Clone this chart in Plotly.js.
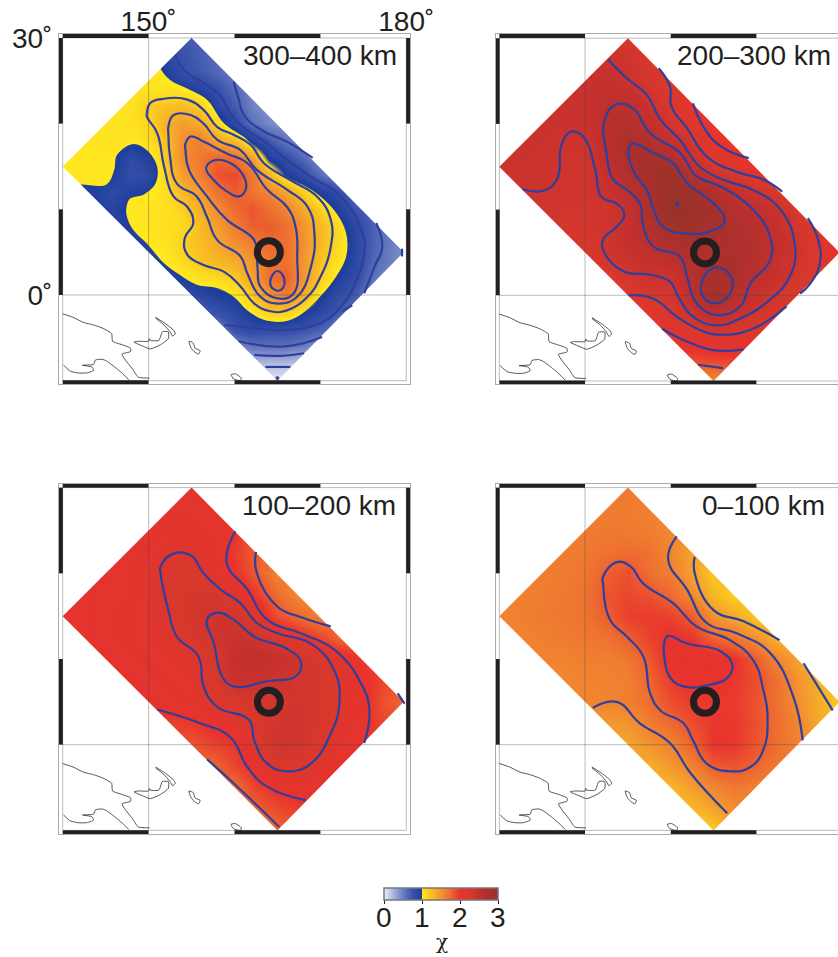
<!DOCTYPE html>
<html><head><meta charset="utf-8">
<script src="https://cdn.plot.ly/plotly-3.0.1.min.js"></script>
<style>html,body{margin:0;padding:0;background:#fff;overflow:hidden}#chart{width:838px;height:957px}</style>
</head><body><div id="chart"></div>
<script>
// ---------- colour scale (chi) ----------
const blueStops  = [0, 0.25, 0.5, 0.75, 1];
const blueColors = ['#e9ecf6','#aab5dd','#6a7dc0','#3a53ab','#1d3d9c'];
const warmStops  = [1, 1.25, 1.5, 1.75, 2, 2.25, 2.5, 2.75, 3];
const warmColors = ['#ffe820','#f9c022','#f39430','#ed6a30','#e8322d','#d8382c','#c4302e','#a9302c','#96322a'];
const chiTicks   = [0, 1, 2, 3];
const chiSymbol  = 'χ';

// ---------- depth labels ----------
const depthLabels = ['300–400 km','200–300 km','100–200 km','0–100 km'];

// ---------- study region corners and site ----------
const cornerLon = [155, 179.7, 165, 140];
const cornerLat = [30, 5, -10, 15];
const siteLon = [164];
const siteLat = [5];

// ---------- chi grids: each row = [first lon, values...] ----------
const latsFine = [30,28,26,24,22,20,18,16,14,12,10,8,6,4,2,0,-2,-4,-6,-8,-10];
const lonsFine = [140,142,144,146,148,150,152,154,156,158,160,162,164,166,168,170,172,174,176,178,180];
const latsCoarse = [30,27.5,25,22.5,20,17.5,15,12.5,10,7.5,5,2.5,0,-2.5,-5,-7.5,-10];
const lonsCoarse = [140,142.5,145,147.5,150,152.5,155,157.5,160,162.5,165,167.5,170,172.5,175,177.5,180];

const rows300 = [
 [152,.85,.72,.66,.58],
 [150,.98,.88,.76,.68,.6],
 [150,1.05,.98,.79,.72,.62,.5],
 [148,1.05,1.05,1.06,1.01,.93,.78,.6,.45],
 [146,1.03,1.05,1.2,1.25,1.28,1.2,.9,.7,.48,.4],
 [144,1.03,1.05,1.08,1.15,1.35,1.45,1.38,1.15,.85,.58,.45,.38],
 [142,1.02,1.05,1.07,1.02,1.1,1.26,1.54,1.62,1.4,1.28,.97,.73,.55,.42],
 [140,1.02,1.03,1.03,1.01,.85,.96,1.22,1.55,1.66,1.78,1.72,1.45,.98,.81,.62,.42],
 [140,1.0,1.03,1.02,.98,.8,.85,1.17,1.45,1.64,1.85,1.9,1.68,1.33,1.0,.83,.6,.45],
 [142,.95,.95,.85,.96,.98,1.1,1.3,1.45,1.7,1.82,1.7,1.58,1.4,1.2,.97,.82,.58],
 [144,.95,.93,1.03,1.05,1.08,1.18,1.35,1.55,1.75,1.85,1.72,1.6,1.38,1.18,.97,.75,.62],
 [146,.9,.98,1.05,1.08,1.12,1.28,1.45,1.65,1.8,1.82,1.72,1.5,1.3,1.12,.88,.68,.5],
 [148,.9,.99,1.07,1.18,1.27,1.38,1.52,1.62,1.75,1.72,1.52,1.3,1.12,.9,.67,.52,.42],
 [150,.9,1.01,1.13,1.23,1.3,1.38,1.5,1.68,1.72,1.5,1.25,1.07,.88,.65,.5,.38],
 [152,.9,.98,1.08,1.12,1.2,1.42,1.72,1.8,1.5,1.2,.98,.82,.58,.43,.33],
 [154,.85,.88,.97,1.02,1.22,1.5,1.65,1.37,1.03,.83,.7,.5,.36,.3],
 [156,.7,.78,.88,1.03,1.2,1.2,1.03,.88,.72,.57,.42,.3],
 [158,.5,.79,.85,.82,.82,.77,.68,.52,.42,.3],
 [160,.45,.55,.57,.56,.5,.38,.3,.22],
 [162,.22,.2,.2,.16,.1],
 [162,.08,.04,.02,.04]
];
const rows200 = [
 [152.5,2.35,2.3,2.28],
 [152.5,2.42,2.36,2.25,2.2],
 [150,2.45,2.5,2.42,2.3,2.17],
 [147.5,2.43,2.47,2.55,2.57,2.42,2.22,2.02],
 [145,2.43,2.45,2.45,2.6,2.68,2.53,2.33,2.17,1.95],
 [142.5,2.43,2.42,2.38,2.37,2.58,2.75,2.72,2.55,2.33,2.07,1.95],
 [140,2.4,2.42,2.4,2.36,2.36,2.52,2.72,2.83,2.83,2.52,2.3,2.18,2.0],
 [142.5,2.41,2.38,2.35,2.33,2.47,2.6,2.78,2.92,2.82,2.62,2.47,2.35,2.2],
 [145,2.35,2.33,2.33,2.35,2.48,2.72,2.97,2.92,2.8,2.64,2.58,2.43,2.22],
 [147.5,2.3,2.3,2.37,2.5,2.65,2.83,2.82,2.78,2.7,2.63,2.5,2.32,2.15],
 [150,2.25,2.35,2.47,2.55,2.65,2.7,2.72,2.72,2.65,2.5,2.37,2.2,1.95],
 [152.5,2.22,2.33,2.42,2.42,2.65,2.8,2.75,2.6,2.46,2.3,2.18],
 [155,2.2,2.27,2.33,2.58,2.82,2.65,2.47,2.33,2.2,2.1],
 [157.5,2.1,2.2,2.37,2.55,2.42,2.3,2.2],
 [160,2.07,2.12,2.18,2.15,2.15],
 [162.5,1.9,1.92,1.93,1.9],
 [162.5,1.6,1.55,1.7]
];
const rows100 = [
 [152.5,2.05,2.05,2.0],
 [152.5,2.08,2.08,2.05,2.0],
 [150,2.08,2.1,2.1,2.08,2.0],
 [147.5,2.08,2.1,2.15,2.2,2.12,1.95,1.8],
 [145,2.05,2.08,2.12,2.22,2.25,2.13,2.0,1.82,1.6],
 [142.5,2.05,2.08,2.08,2.12,2.24,2.28,2.3,2.15,1.97,1.75,1.55],
 [140,2.03,2.05,2.08,2.1,2.12,2.2,2.3,2.38,2.35,2.17,1.87,1.75,1.62],
 [142.5,2.05,2.08,2.1,2.12,2.15,2.28,2.35,2.43,2.4,2.22,2.05,1.92,1.75],
 [145,2.05,2.08,2.1,2.12,2.15,2.25,2.5,2.55,2.48,2.38,2.25,2.1,1.95],
 [147.5,2.05,2.08,2.1,2.12,2.27,2.42,2.45,2.39,2.33,2.28,2.17,2.03,1.9],
 [150,2.05,2.08,2.1,2.18,2.24,2.3,2.32,2.32,2.28,2.17,2.04,1.85,1.75],
 [152.5,1.93,1.97,2.05,2.13,2.24,2.33,2.38,2.25,2.15,2.03,1.9],
 [155,1.85,1.92,1.98,2.2,2.37,2.35,2.22,2.1,2.0,1.92],
 [157.5,1.75,1.92,2.06,2.22,2.22,2.13,2.03],
 [160,1.72,1.93,2.02,2.07,2.03],
 [162.5,1.78,1.9,1.95,1.9],
 [162.5,1.6,1.75,1.85]
];
const rows0 = [
 [152.5,1.65,1.65,1.62],
 [152.5,1.65,1.65,1.62,1.6],
 [150,1.65,1.66,1.65,1.63,1.58,1.5],
 [147.5,1.63,1.66,1.7,1.74,1.7,1.58,1.42],
 [145,1.63,1.65,1.68,1.8,1.87,1.72,1.63,1.43,1.2],
 [142.5,1.62,1.64,1.66,1.7,1.85,1.9,1.87,1.75,1.56,1.3,1.15],
 [140,1.6,1.62,1.65,1.67,1.7,1.8,1.95,1.96,1.93,1.82,1.5,1.38,1.2],
 [142.5,1.6,1.62,1.65,1.66,1.7,1.8,1.93,2.02,1.98,1.78,1.68,1.52,1.32],
 [145,1.6,1.6,1.63,1.62,1.68,1.83,2.05,2.08,2.07,2.0,1.82,1.58,1.4],
 [147.5,1.58,1.6,1.6,1.62,1.77,1.96,2.02,2.03,1.98,1.88,1.7,1.5,1.33],
 [150,1.58,1.6,1.63,1.72,1.88,1.96,1.98,1.95,1.85,1.7,1.52,1.35,1.15],
 [152.5,1.47,1.5,1.64,1.75,1.88,1.98,1.98,1.87,1.72,1.57,1.35],
 [155,1.4,1.5,1.6,1.78,2.0,1.98,1.85,1.72,1.6,1.45],
 [157.5,1.35,1.48,1.6,1.82,1.85,1.77,1.65],
 [160,1.3,1.45,1.58,1.66,1.62],
 [162.5,1.28,1.42,1.55,1.55],
 [162.5,1.1,1.2,1.4]
];

// ---------- the chi = 1 edge of the yellow area at 300-400 km ----------
const yellowLon = [150,151.4,152.5,154.5,156.8,158.8,161.5,163.4,165.8,168.9,171.6,173.0,173.0,171.6,169.6,167.7,165.8,163.4,161.5,159.9,158.0,155.6,153.7,151.8,149.8,148.2,147.4,147.7,148.2,149.4,150.8,151.0,149.8,148.1,146.3,146.0,145.1,142.2,140.3,137,137,150];
const yellowLat = [30,26.4,25.1,24.1,22.8,20.0,18.1,15.8,13.8,12.3,9.9,7.2,4.5,1.8,-0.6,-2.3,-3.1,-2.9,-1.8,-0.2,0.8,1.2,2.3,3.7,6.0,7.6,9.5,11.1,11.4,11.7,13.0,15.0,16.9,17.6,16.3,14.6,12.9,12.9,12.9,12.9,32,32];

// ---------- contour lines (lon / lat, null separates lines) ----------
const _ = null;
const contourLon300 = [
149.8,150.2,151.8,154.5,156.4,158.0,159.9,161.9,163.4,166.5,169.6,171.2,171.2,170.0,168.5,166.1,164.2,162.3,160.7,158.8,156.4,154.5,154.2,155.2,154.5,152.9,151.8,151.0,149.8,149.8,_,
152.3,152.9,154.9,156.4,158.0,160.7,162.6,166.1,168.5,169.3,168.9,167.3,165.0,163.0,161.5,160.7,158.0,156.8,155.6,153.3,152.5,152.3,152.3,_,
154.3,154.9,156.4,159.1,161.5,163.8,166.1,167.1,167.3,166.9,165.0,163.0,162.7,162.6,162.3,159.1,156.8,154.7,154.3,154.3,_,
156.7,157.6,159.5,161.1,161.3,160.5,159.1,157.6,156.7,_,
164.2,165.0,165.8,165.4,164.4,164.2,_,
153.1,154.1,156.8,158.4,159.5,161.1,163.8,166.1,168.9,172.4,174.9,175.1,173.9,172.0,170.0,165.8,162.6,158.8,_,
159.9,160.5,161.1,163.4,166.1,169.1,_,
176.5,177.2,176.3,175.1,_,
160.5,165.8,170.2,_,
172.6,173.7,_,
162.3,165.4,168.1,_,
163.6,166.5,_,
164.9,165.0,165.1,165.0,164.9,_,
179.5,179.5];
const contourLat300 = [
21.2,22.4,22.9,22.8,21.6,19.6,18.7,17.5,15.4,13.4,11.5,8.8,5.6,2.1,-0.2,-1.8,-1.9,-1.0,1.0,2.7,3.5,4.7,6.6,8.4,10.3,11.5,15.0,18.9,20.8,21.2,_,
19.6,21.0,21.0,20.0,18.1,16.9,14.6,12.3,10.3,7.2,3.3,-0.2,-1.0,-0.2,2.5,4.5,6.4,9.1,11.5,13.0,16.1,18.9,19.6,_,
17.7,18.5,17.9,16.5,15.4,12.3,10.3,8.0,4.5,0.2,-0.4,1.0,2.9,4.5,6.4,8.8,11.5,14.6,16.9,17.7,_,
14.8,15.7,15.4,13.8,12.3,11.5,12.1,13.4,14.8,_,
1.8,2.8,1.8,0.6,0.8,1.8,_,
28.0,26.3,24.5,23.2,21.2,19.5,17.7,15.8,13.8,11.5,7.2,4.9,1.0,-1.8,-3.3,-4.1,-3.9,-3.5,_,
24.9,22.8,21.0,19.1,17.9,16.0,_,
8.4,5.6,3.3,0.2,_,
-5.4,-6.0,-4.9,_,
-1.9,-1.2,_,
-7.0,-7.1,-6.8,_,
-8.4,-8.4,_,
-9.7,-9.6,-9.7,-9.8,-9.7,_,
5.4,4.5];

const contourLon200 = [
162.6,163.8,165.8,169.1,_,
158.6,159.9,160.1,161.9,164.2,167.7,170.8,173.0,_,
176.0,177.2,177.4,176.3,175.1,_,
155.1,158.0,160.7,163.8,165.8,169.6,173.5,_,
159.0,161.9,165.0,168.5,_,
163.2,166.1,_,
152.7,154.9,157.2,158.8,161.1,163.4,166.1,169.6,172.8,174.5,173.9,171.6,168.1,165.4,162.6,160.9,159.9,157.6,154.5,152.3,152.1,153.7,154.6,153.7,151.9,151.2,149.8,148.4,147.3,146.7,145.1,142.7,_,
152.3,153.7,155.6,157.6,161.1,163.0,165.8,169.6,171.6,171.6,169.3,168.1,165.4,163.0,161.9,161.1,158.0,156.8,156.4,154.9,153.3,152.5,152.3,_,
155.1,155.6,158.0,160.3,161.9,165.0,166.3,165.0,161.9,159.1,158.0,157.2,155.6,155.1,_,
163.6,165.0,166.9,167.1,165.4,163.8,163.6,_,
160.6,160.7,160.85,160.7,160.6];
const contourLat200 = [
22.4,19.7,17.4,16.0,_,
26.5,24.4,22.0,19.5,16.2,14.4,13.5,12.1,_,
9.0,6.5,3.7,1.4,0.2,_,
0.0,-0.4,-2.5,-4.2,-4.6,-3.9,-1.3,_,
-3.9,-5.4,-6.4,-6.3,_,
-8.1,-8.5,_,
27.5,25.3,23.4,20.5,18.1,15.0,13.5,12.3,10.0,5.7,2.2,-0.5,-2.7,-3.5,-2.5,-0.2,1.6,2.4,2.8,4.9,6.5,8.0,9.4,10.7,11.5,14.6,18.5,19.1,17.7,13.5,12.2,12.4,_,
20.5,22.3,21.8,18.9,16.6,13.9,12.7,10.0,6.8,4.1,1.4,-1.3,-2.3,-0.9,2.2,4.5,5.7,8.0,10.7,12.3,13.5,16.6,20.5,_,
17.2,17.7,16.6,15.4,13.1,10.7,8.8,7.6,7.2,8.0,10.0,12.3,14.6,17.2,_,
1.4,3.2,2.4,0.6,-0.9,-0.2,1.4,_,
10.6,10.75,10.6,10.45,10.6];

const contourLon100 = [
151.4,152.9,154.9,156.4,158.4,160.7,162.6,165.0,168.9,171.6,172.2,171.2,168.9,166.1,163.8,162.3,161.7,158.0,156.4,155.8,153.3,152.3,151.4,151.4,_,
156.8,158.0,159.9,162.3,166.1,167.7,167.3,163.8,159.9,158.6,157.6,156.8,_,
160.1,159.1,161.5,163.8,167.7,171.6,174.7,175.7,175.1,_,
162.5,162.6,165.0,167.7,171.2,_,
151.0,156.0,159.5,161.5,163.8,168.3,_,
156.8,159.9,165.2,_,
179.0,179.8];
const contourLat100 = [
20.8,22.3,22.1,20.0,18.1,16.5,14.2,13.0,11.8,8.7,4.8,1.3,-2.2,-3.1,-2.2,0.5,2.9,4.4,6.8,10.3,12.6,15.7,20.0,20.8,_,
14.6,15.4,14.6,12.6,11.2,9.7,8.1,7.4,6.8,7.9,11.8,14.6,_,
24.9,21.2,18.1,14.6,13.0,11.1,7.2,4.0,0.2,_,
22.5,20.0,16.1,14.9,13.8,_,
4.1,2.5,0.9,-2.6,-4.9,-6.5,_,
-1.7,-4.5,-9.6,_,
6.0,4.8];

const contourLon0 = [
159.3,159.7,161.9,165.8,167.2,166.7,164.6,161.5,159.9,159.3,159.3,_,
152.1,153.7,155.3,156.8,160.3,163.0,166.9,169.6,170.8,171.3,170.8,169.3,166.9,164.2,162.6,161.5,158.8,157.6,156.8,154.9,152.9,152.1,152.1,_,
160.7,159.7,161.9,164.2,167.7,171.6,174.3,175.4,_,
150.9,153.7,156.4,159.9,162.3,166.6,_,
162.8,162.8,165.0,168.5,172.7,_,
175.5,178.9];
const contourLat0 = [
12.2,12.7,11.8,10.9,9.3,7.9,7.0,6.8,7.9,9.9,12.2,_,
19.6,21.3,20.8,18.8,16.5,13.8,12.2,9.9,6.4,2.9,-0.6,-2.6,-3.1,-2.2,0.5,2.5,4.0,6.0,10.3,12.6,14.6,18.8,19.6,_,
24.3,21.6,18.1,14.2,13.0,10.7,5.6,0.5,_,
4.3,5.0,2.5,0.2,-3.3,-8.0,_,
21.9,20.0,15.7,14.4,12.2,_,
9.5,4.0];

// ---------- coastlines ----------
const coastLon = [
140.0,141.2,142.4,143.6,144.7,145.7,145.8,146.9,147.9,147.9,146.9,147.3,148.1,148.8,150.1,_,
140.1,140.9,141.8,142.8,143.6,143.4,142.3,143.6,143.8,144.6,145.1,146.3,147.1,147.7,_,
148.3,149.4,150.2,151.4,152.3,152.3,151.6,151.2,150.2,150.1,150.0,148.8,148.3,_,
150.8,151.9,152.9,153.1,152.8,152.5,151.8,150.8,_,
154.7,155.2,155.4,156.0,155.8,155.3,154.9,154.7,_,
159.6,160.1,160.8,160.7,159.9,159.6];
const coastLat = [
-2.2,-2.6,-3.2,-3.5,-3.9,-4.5,-5.4,-5.8,-6.2,-6.6,-6.9,-7.6,-8.6,-9.6,-9.7,_,
-8.2,-8.9,-9.1,-9.1,-8.8,-8.4,-8.2,-8.1,-7.6,-7.5,-7.7,-8.6,-9.3,-9.9,_,
-5.5,-6.0,-6.3,-5.8,-5.1,-4.3,-4.3,-5.3,-5.3,-5.1,-5.4,-5.4,-5.5,_,
-2.6,-3.3,-4.1,-4.5,-4.8,-4.3,-3.5,-2.7,_,
-5.4,-5.6,-6.2,-6.5,-6.9,-6.6,-6.1,-5.4,_,
-9.3,-9.2,-9.7,-10.0,-9.8,-9.3];

// ---------- frame bars and graticule ----------
const barTopLon = [140,150,_,160,170];
const barSideLat = [30,20,_,10,0];
const gridLon = [150,150,_,140,180,_,140,140,_,180,180,_,140,180,_,140,180];
const gridLat = [-10,30,_,0,0,_,-10,30,_,-10,30,_,30,30,_,-10,-10];

// ---------- build ----------
const W = 838, H = 957;
const FONT = '"Liberation Sans",Arial,sans-serif', INK = '#231f20';
const blueScale = blueStops.map((s,i)=>[s, blueColors[i]]);
const fullScale = blueStops.map((s,i)=>[Math.min(s/3,0.33333), blueColors[i]])
  .concat(warmStops.map((s,i)=>[s===1?0.33334:s/3, warmColors[i]]));
// warm part of the 300-400 km panel: see-through up to the yellow plateau
const warmOverlay = [[0,'rgba(252,215,33,0)'],[0.01,'rgba(252,215,33,0)'],[0.07,'rgba(252,215,33,1)']]
  .concat(warmStops.slice(1).map((s,i)=>[(s-1)/2, warmColors[i+1]]));

function grid(rows, lons){
  const step = lons[1]-lons[0];
  return rows.map(r=>{
    const out = lons.map(()=>null);
    const first = Math.round((r[0]-lons[0])/step);
    r.slice(1).forEach((v,i)=>{out[first+i]=v;});
    return out;
  });
}
const c = cornerLon, d = cornerLat;
// white polygons outside the rotated study rectangle
const maskLon = [130,c[0],c[0],c[3],130,130,_, c[0],190,190,c[1],c[0],c[0],_, 190,190,c[2],c[2],c[1],190,_, c[2],130,130,c[3],c[2],c[2]];
const maskLat = [40,40,d[0],d[3],d[3],40,_, 40,40,d[1],d[1],d[0],40,_, d[1],-20,-20,d[2],d[1],d[1],_, -20,-20,d[3],d[3],d[2],-20];

const panels = [
 {id:'',  px:[59,410],   py:[34,384],  xr:[139.57,180.43], yr:[-10.39,30.46], lons:lonsFine,   lats:latsFine,   rows:rows300, cx:contourLon300, cy:contourLat300, label:depthLabels[0], lx:179.1},
 {id:'2', px:[496,838],  py:[34,384],  xr:[139.61,179.52], yr:[-10.35,30.49], lons:lonsCoarse, lats:latsCoarse, rows:rows200, cx:contourLon200, cy:contourLat200, label:depthLabels[1], lx:178.9},
 {id:'3', px:[59,410],   py:[484,834], xr:[139.57,180.43], yr:[-10.42,30.42], lons:lonsCoarse, lats:latsCoarse, rows:rows100, cx:contourLon100, cy:contourLat100, label:depthLabels[2], lx:179.0},
 {id:'4', px:[496,838],  py:[484,834], xr:[139.61,179.52], yr:[-10.42,30.42], lons:lonsCoarse, lats:latsCoarse, rows:rows0,   cx:contourLon0,   cy:contourLat0,   label:depthLabels[3], lx:178.2}
];

const traces = [];
const layout = {
  width:W, height:H, margin:{l:0,r:0,t:0,b:0,autoexpand:false},
  paper_bgcolor:'#fff', plot_bgcolor:'#fff', showlegend:false,
  font:{family:FONT, color:INK, size:28},
  annotations:[],
  coloraxis:{
    colorscale:fullScale, cmin:0, cmax:3,
    colorbar:{
      orientation:'h', x:384/W, xanchor:'left', y:1-887.5/H, yanchor:'top',
      len:114/W, lenmode:'fraction', thickness:12, thicknessmode:'pixels',
      xpad:0, ypad:0, outlinecolor:'#777', outlinewidth:1.5,
      tickmode:'array', tickvals:chiTicks, ticktext:chiTicks.map(()=>''),
      ticks:'outside', ticklen:4, tickcolor:INK, tickwidth:1
    }
  }
};
chiTicks.forEach(t=>layout.annotations.push({xref:'paper',yref:'paper',x:(384+t/3*114)/W,y:1-917.5/H,text:String(t),showarrow:false,xanchor:'center',yanchor:'middle',font:{size:28,color:INK,family:FONT}}));
layout.annotations.push({xref:'paper',yref:'paper',x:441.5/W,y:1-942/H,text:chiSymbol,showarrow:false,xanchor:'center',yanchor:'middle',font:{size:20,color:INK,family:'"DejaVu Serif",serif'}});

panels.forEach((p,i)=>{
  const xa='x'+p.id, ya='y'+p.id;
  const z=grid(p.rows,p.lons);
  const isFirst = i===0;
  // the 300-400 km panel draws its overlay marks on a second, coincident axis pair
  const ox = isFirst?'x5':xa, oy = isFirst?'y5':ya;
  const base={xaxis:xa,yaxis:ya,hoverinfo:'skip',showlegend:false};
  const top ={xaxis:ox,yaxis:oy,hoverinfo:'skip',showlegend:false};
  if(isFirst){
    traces.push(Object.assign({},base,{type:'heatmap',x:p.lons,y:p.lats,z:z,zsmooth:'best',connectgaps:true,colorscale:blueScale,zmin:0,zmax:1,showscale:false}));
    traces.push(Object.assign({},base,{type:'scatter',mode:'lines',x:yellowLon,y:yellowLat,fill:'toself',fillcolor:warmColors[0],line:{width:0,color:warmColors[0],shape:'spline',smoothing:1}}));
    traces.push(Object.assign({},top,{type:'heatmap',x:p.lons,y:p.lats,z:z.map(r=>r.slice()),zsmooth:'best',connectgaps:true,colorscale:warmOverlay,zmin:1,zmax:3,showscale:false}));
  } else {
    traces.push(Object.assign({},base,{type:'heatmap',x:p.lons,y:p.lats,z:z,zsmooth:'best',connectgaps:true,coloraxis:'coloraxis'}));
  }
  traces.push(Object.assign({},top,{type:'scatter',mode:'lines',x:maskLon,y:maskLat,fill:'toself',fillcolor:'#fff',line:{width:0,color:'#fff'}}));
  traces.push(Object.assign({},top,{type:'scatter',mode:'lines',x:gridLon,y:gridLat,line:{width:1,color:'rgba(70,70,70,0.36)'}}));
  traces.push(Object.assign({},top,{type:'scatter',mode:'lines',x:coastLon,y:coastLat,line:{width:0.7,color:'#111',shape:'spline',smoothing:0.5}}));
  traces.push(Object.assign({},top,{type:'scatter',mode:'lines',x:p.cx,y:p.cy,line:{width:2.2,color:'#2e3f9e',shape:'spline',smoothing:1.3}}));
  traces.push(Object.assign({},top,{type:'scatter',mode:'markers',x:siteLon,y:siteLat,marker:{symbol:'circle-open',size:23,color:INK,line:{width:7,color:INK}}}));
  // alternating frame bars
  const midLat=[p.yr[1]/2+15, p.yr[0]/2-5], midLon=[p.xr[0]/2+70, p.xr[1]/2+90];
  midLat.forEach(la=>traces.push(Object.assign({},top,{type:'scatter',mode:'lines',x:barTopLon,y:barTopLon.map(v=>v===null?null:la),line:{width:4,color:INK}})));
  midLon.forEach(lo=>traces.push(Object.assign({},top,{type:'scatter',mode:'lines',x:barSideLat.map(v=>v===null?null:lo),y:barSideLat,line:{width:4,color:INK}})));

  layout['xaxis'+p.id]={
    domain:[p.px[0]/W,p.px[1]/W], range:p.xr, anchor:ya, side:'top',
    showgrid:false, zeroline:false, showline:true, mirror:true, linecolor:'#aaa', linewidth:1,
    ticks:'', tickmode:'array', tickvals:isFirst?[150,180]:[], ticktext:isFirst?['150˚','180˚']:[],
    showticklabels:isFirst, tickfont:{size:28}, ticklabelstandoff:-9
  };
  layout['yaxis'+p.id]={
    domain:[1-p.py[1]/H,1-p.py[0]/H], range:p.yr, anchor:xa,
    showgrid:false, zeroline:false, showline:true, mirror:true, linecolor:'#aaa', linewidth:1,
    ticks:'', tickmode:'array', tickvals:isFirst?[0,30]:[], ticktext:isFirst?['0˚','30˚']:[],
    showticklabels:isFirst, tickfont:{size:28}
  };
  layout.annotations.push({xref:xa,yref:ya,x:p.lx,y:27.95,text:p.label,showarrow:false,xanchor:'right',yanchor:'middle',font:{size:28,color:INK}});
});
layout.xaxis5={overlaying:'x',range:panels[0].xr,anchor:'y5',visible:false,showgrid:false,zeroline:false};
layout.yaxis5={overlaying:'y',range:panels[0].yr,anchor:'x5',visible:false,showgrid:false,zeroline:false};

Plotly.newPlot('chart',traces,layout,{displayModeBar:false,staticPlot:true});
</script>
</body></html>
